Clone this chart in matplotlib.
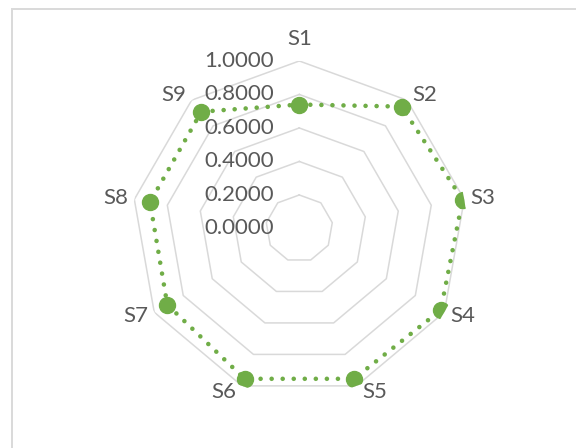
import numpy as np
import matplotlib.pyplot as plt
from matplotlib.patches import Rectangle

categories = ['S1', 'S2', 'S3', 'S4', 'S5', 'S6', 'S7', 'S8', 'S9']
values = [0.74, 0.95, 0.99, 0.975, 0.955, 0.955, 0.91, 0.905, 0.91]
levels = [0.2, 0.4, 0.6, 0.8, 1.0]
tick_labels = ['0.0000', '0.2000', '0.4000', '0.6000', '0.8000', '1.0000']

green = '#70AD47'
grid_col = '#D9D9D9'
text_col = '#595959'
plt.rcParams['font.family'] = ['Lato', 'DejaVu Sans']

fig = plt.figure(figsize=(5.76, 4.48), dpi=100)

# chart border (Excel frame, cut off on right/bottom)
fig.patches.append(Rectangle((12 / 576, -0.1), 2, (448 - 9) / 448 + 0.1,
                             transform=fig.transFigure, fill=False,
                             edgecolor=grid_col, lw=1.4))

ax = fig.add_axes([0.2288, 0.1161, 0.5816, 0.7478], projection='polar')
ax.set_theta_offset(np.pi / 2)
ax.set_theta_direction(-1)
ax.set_ylim(0, 1)
ax.grid(False)
ax.set_xticks([])
ax.set_yticks([])
ax.spines['polar'].set_visible(False)
ax.patch.set_alpha(0)

n = len(categories)
theta = np.arange(n) * 2 * np.pi / n
theta_c = np.append(theta, theta[0])

# polygon gridlines
for lv in levels:
    ax.plot(theta_c, [lv] * (n + 1), color=grid_col, lw=1.1, zorder=1)

# tick labels along the vertical axis
for i, lab in enumerate(tick_labels):
    r = i * 0.2
    ax.annotate(lab, xy=(0, r), xytext=(-18, 0), textcoords='offset points',
                ha='right', va='center', fontsize=16, color=text_col,
                annotation_clip=False)

# data series
vals_c = np.append(values, values[0])
ax.plot(theta_c, vals_c, color=green, lw=3.3, linestyle=(0, (0.01, 2.4)),
        dash_capstyle='round', zorder=3)
ax.plot(theta, values, 'o', color=green, markersize=11.5, zorder=4)

# category labels
for t, lab in zip(theta, categories):
    s, c = np.sin(t), np.cos(t)
    if abs(s) < 0.1:
        off = (0, 16)
    else:
        off = (13 * np.sign(s), 5 * c)
    ax.annotate(lab, xy=(t, 1.0), xytext=off, textcoords='offset points',
                ha='center', va='center', fontsize=16, color=text_col,
                annotation_clip=False)

fig.savefig('out.png', dpi=100)
